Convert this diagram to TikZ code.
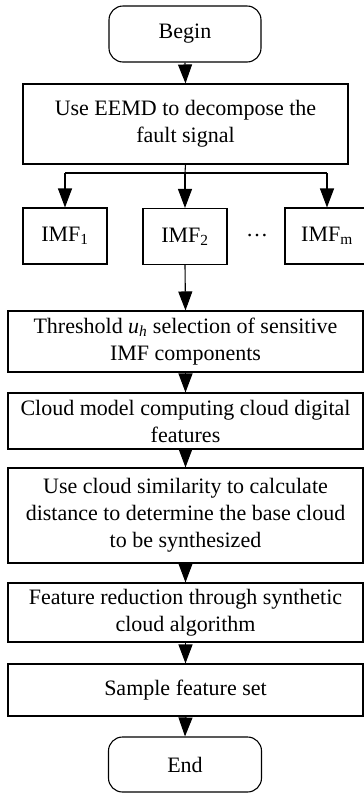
\documentclass[tikz,border=0pt]{standalone}
\usepackage{fontspec}
\setmainfont{Liberation Serif}
\usetikzlibrary{arrows.meta}
\begin{document}
\begin{tikzpicture}[x=1pt,y=-1pt,
  box/.style={draw, line width=1.1pt, rectangle, inner sep=0pt, align=center,
    font=\fontsize{22}{27}\selectfont},
  term/.style={box, rounded corners=14pt},
  wide/.style={box, minimum width=355pt},
  imf/.style={box, minimum width=84pt, minimum height=56pt},
  arr/.style={line width=1.1pt, -{Triangle[length=19pt,width=14pt]}},
  ln/.style={line width=1.1pt}]
\useasboundingbox (0,0) rectangle (364,793);
\node[term, minimum width=152pt, minimum height=56pt] (begin) at (185,34) {Begin};
\node[box, minimum width=325pt, minimum height=80pt] (eemd) at (185.5,124) {Use EEMD to decompose the\\fault signal};
\node[imf] (imf1) at (65,236) {IMF\textsubscript{1}};
\node[imf] (imf2) at (185,236.5) {IMF\textsubscript{2}};
\node[imf] (imfm) at (327,236) {IMF\textsubscript{m}};
\node[font=\fontsize{22}{27}\selectfont, inner sep=0pt] (dots) at (257,236) {…};
\node[wide, minimum height=61pt] (thr) at (185.5,341.5) {Threshold \textit{u}\textsubscript{\textit{h}} selection of sensitive\\IMF components};
\node[wide, minimum height=56pt] (cloud) at (185.5,421) {Cloud model computing cloud digital\\features};
\node[wide, minimum height=95pt] (sim) at (185.5,515.5) {Use cloud similarity to calculate\\distance to determine the base cloud\\to be synthesized};
\node[wide, minimum height=59pt] (feat) at (185.5,612.5) {Feature reduction through synthetic\\cloud algorithm};
\node[wide, minimum height=52pt] (samp) at (185.5,690) {Sample feature set};
\node[term, minimum width=153pt, minimum height=55pt] (end) at (185,764.5) {End};
\coordinate (br) at (185,173);
\coordinate (b1) at (imf1.north |- br);
\coordinate (bm) at (imfm.north |- br);
\draw[arr] (begin.south) -- (eemd.north);
\draw[ln] (eemd.south) -- (br);
\draw[ln] (b1) -- (bm);
\draw[arr] (b1) -- (imf1.north);
\draw[arr] (br) -- (imf2.north);
\draw[arr] (bm) -- (imfm.north);
\draw[arr] (imf2.south) -- (thr.north);
\draw[arr] (thr.south) -- (cloud.north);
\draw[arr] (cloud.south) -- (sim.north);
\draw[arr] (sim.south) -- (feat.north);
\draw[arr] (feat.south) -- (samp.north);
\draw[arr] (samp.south) -- (end.north);
\end{tikzpicture}
\end{document}
